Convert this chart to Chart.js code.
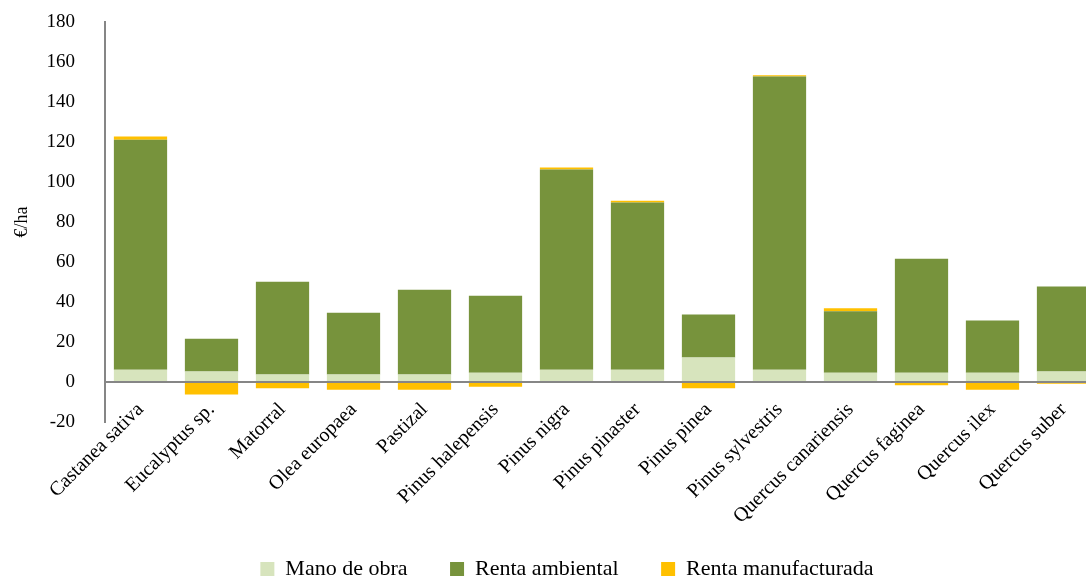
<!DOCTYPE html>
<html><head><meta charset="utf-8">
<script src="https://cdn.jsdelivr.net/npm/chart.js@4"></script>
<style>html,body{margin:0;padding:0;overflow:hidden;background:#fff;width:1086px;height:579px}</style>
</head><body>
<canvas id="c" width="1134" height="579"></canvas>
<script>
const categories = ["Castanea sativa","Eucalyptus sp.","Matorral","Olea europaea","Pastizal","Pinus halepensis","Pinus nigra","Pinus pinaster","Pinus pinea","Pinus sylvestris","Quercus canariensis","Quercus faginea","Quercus ilex","Quercus suber"];
const manoDeObra = [6.1,5.2,3.7,3.7,3.7,4.6,6.1,6.1,12.3,6.1,4.6,4.6,4.6,5.2];
const rentaAmbiental = [115.0,16.4,46.4,30.9,42.4,38.5,100.2,83.7,21.5,146.7,30.8,57.0,26.2,42.6];
const rentaManufacturada = [1.7,-6.2,-3.1,-3.9,-3.9,-2.4,1.0,0.8,-3.1,0.6,1.5,-1.6,-3.9,-0.9];
const yTicks = [-20,0,20,40,60,80,100,120,140,160,180];

const FONT = "'Liberation Serif', 'DejaVu Serif', serif";
const AXIS = '#868686';
const GAP = '\u00A0'.repeat(7);

const noLabelClip = {
  id: 'noLabelClip',
  afterUpdate(chart) {
    const x = chart.scales.x;
    if (x) x._computeLabelArea = () => undefined;
  }
};

new Chart(document.getElementById('c'), {
  type: 'bar',
  plugins: [noLabelClip],
  data: {
    labels: categories,
    datasets: [
      {label: 'Mano de obra', data: manoDeObra, backgroundColor: '#D7E4BD', barPercentage: 0.75, categoryPercentage: 1},
      {label: 'Renta ambiental', data: rentaAmbiental, backgroundColor: '#77933C', barPercentage: 0.75, categoryPercentage: 1},
      {label: 'Renta manufacturada', data: rentaManufacturada, backgroundColor: '#FFC000', barPercentage: 0.75, categoryPercentage: 1}
    ]
  },
  options: {
    responsive: false,
    animation: false,
    layout: {padding: {top: 22, right: 35, left: 35, bottom: -11}},
    plugins: {
      legend: {
        position: 'bottom',
        labels: {
          font: {family: FONT, size: 22}, color: '#000', boxWidth: 14, boxHeight: 14, padding: 4,
          generateLabels: chart => {
            const items = Chart.defaults.plugins.legend.labels.generateLabels(chart);
            items.forEach((it, i) => { it.lineWidth = 0; if (i < items.length - 1) it.text = it.text + GAP; });
            return items;
          }
        }
      },
      tooltip: {enabled: false}
    },
    scales: {
      x: {
        stacked: true,
        grid: {display: false, drawTicks: false},
        border: {display: false},
        ticks: {font: {family: FONT, size: 20}, color: '#000', maxRotation: 45, minRotation: 45, autoSkip: false, padding: -24},
        afterFit: s => { s.height = 132; }
      },
      y: {
        stacked: true,
        min: -20, max: 180,
        afterBuildTicks: s => { s.ticks = yTicks.map(v => ({value: v})); },
        grid: {
          drawTicks: true,
          tickLength: 28,
          tickColor: 'rgba(0,0,0,0)',
          color: ctx => ctx.tick && ctx.tick.value === 0 ? AXIS : 'rgba(0,0,0,0)',
          lineWidth: 2
        },
        border: {display: true, color: AXIS, width: 2},
        ticks: {font: {family: FONT, size: 19}, color: '#000', padding: 2},
        title: {display: true, text: '€/ha', font: {family: FONT, size: 18}, color: '#000', padding: {top: -24, bottom: 0}},
        afterFit: s => { s.width = 70; }
      }
    }
  }
});
</script>
</body></html>
